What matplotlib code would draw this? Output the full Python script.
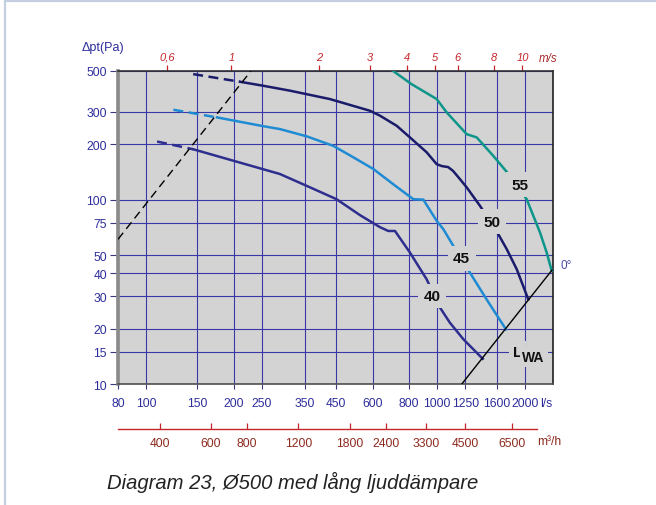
import matplotlib
matplotlib.use('Agg')
import matplotlib.pyplot as plt
from matplotlib.ticker import NullLocator, FixedLocator, FixedFormatter
from matplotlib.lines import Line2D
import numpy as np

plt.rcParams['font.family'] = ['Liberation Sans', 'DejaVu Sans']

# ---------------- data (flow l/s, pressure Pa) ----------------
c40_dash_q = [109, 145]
c40_dash_p = [207, 188]
c40_q = [145, 288, 356, 451, 543, 636, 679, 716, 806, 920, 1022, 1106, 1230, 1434]
c40_p = [188, 138, 119, 100.7, 82.5, 71, 67.7, 67.7, 51.7, 37.0, 26.0, 21.5, 17.5, 13.7]

c45_dash_q = [124, 175]
c45_dash_p = [308, 280]
c45_q = [175, 252, 288, 356, 440, 515, 603, 706, 828, 896, 996, 1050, 1136, 1263, 1478, 1723]
c45_p = [280, 251, 242, 221, 196, 170, 147, 121.5, 100.7, 100.2, 76.8, 69.2, 56.2, 42.9, 28.8, 19.8]

c50_dash_q = [145, 210]
c50_dash_p = [481, 437]
c50_q = [210, 252, 312, 428, 588, 636, 726, 806, 920, 996, 1038, 1090, 1133, 1197, 1263, 1403, 1622, 1733, 1876, 2056]
c50_p = [437, 416, 391, 352, 304, 286, 252, 218, 181, 156, 152.3, 150.5, 143.6, 129.5, 116.7, 92.7, 65, 54, 42, 28.8]

c55_q = [706, 815, 996, 1078, 1263, 1367, 1559, 1779, 2030, 2256, 2378, 2475]
c55_p = [500, 425, 352, 298, 227, 218, 173, 135, 100.7, 66.4, 51.7, 41.1]

system_q = [80, 229]          # black dashed line
system_p = [61, 500]
lwa_q = [1215, 2480]          # L_WA line
lwa_p = [10, 41.5]

curve_labels = ['40', '45', '50', '55']
label_q = [958, 1214, 1539, 1926]
label_p = [30, 48, 76, 121]

x_ticks = [80, 100, 150, 200, 250, 350, 450, 600, 800, 1000, 1250, 1600, 2000]
y_ticks = [10, 15, 20, 30, 40, 50, 75, 100, 200, 300, 500]
ms_ticks = [0.6, 1, 2, 3, 4, 5, 6, 8, 10]
ms_labels = ['0,6', '1', '2', '3', '4', '5', '6', '8', '10']
m3h_ticks = [400, 600, 800, 1200, 1800, 2400, 3300, 4500, 6500]

duct_diameter_m = 0.5
caption = 'Diagram 23, Ø500 med lång ljuddämpare'

# ---------------- styling ----------------
W, H = 656, 506
BG = '#d3d3d3'
GRID = '#3838a6'
NAVY_TXT = '#2d2d9c'
RED = '#c4262b'
BROWN = '#8e2a1e'
C40 = '#2e2e8e'
C45 = '#1f8bd3'
C50 = '#1b1b6b'
C55 = '#0e958a'

fig = plt.figure(figsize=(W / 100, H / 100), dpi=100)
fig.patch.set_facecolor('white')

L, R, T, B = 118, 553, 72, 385
ax = fig.add_axes([L / W, 1 - B / H, (R - L) / W, (B - T) / H])
ax.set_xscale('log')
ax.set_yscale('log')
ax.set_xlim(80, 2500)
ax.set_ylim(10, 500)
ax.set_facecolor(BG)

ax.xaxis.set_major_locator(FixedLocator(x_ticks))
ax.xaxis.set_major_formatter(FixedFormatter([str(v) for v in x_ticks]))
ax.yaxis.set_major_locator(FixedLocator(y_ticks))
ax.yaxis.set_major_formatter(FixedFormatter([str(v) for v in y_ticks]))
ax.xaxis.set_minor_locator(NullLocator())
ax.yaxis.set_minor_locator(NullLocator())
ax.grid(True, which='major', color=GRID, lw=0.8)
ax.set_axisbelow(True)

ax.tick_params(axis='x', direction='out', length=3.5, width=0.8, color='#3a3a80',
               labelcolor=NAVY_TXT, labelsize=8.7, pad=6)
ax.tick_params(axis='y', direction='out', length=6, width=0.8, color='#3a3a80',
               labelcolor=NAVY_TXT, labelsize=8.7, pad=2)

ax.spines['left'].set_color('#8a8a8a')
ax.spines['left'].set_linewidth(2.6)
ax.spines['bottom'].set_color('#505050')
ax.spines['bottom'].set_linewidth(1.2)
ax.spines['top'].set_color('#303030')
ax.spines['top'].set_linewidth(1.2)
ax.spines['right'].set_color('#202020')
ax.spines['right'].set_linewidth(1.2)

# curves
lw = 1.8
dash = (0, (4, 2.2))
ax.plot(c40_dash_q, c40_dash_p, color=C40, lw=lw, ls=dash, zorder=3)
ax.plot(c40_q, c40_p, color=C40, lw=lw, zorder=3, solid_joinstyle='round')
ax.plot(c45_dash_q, c45_dash_p, color=C45, lw=lw, ls=dash, zorder=3)
ax.plot(c45_q, c45_p, color=C45, lw=lw, zorder=3, solid_joinstyle='round')
ax.plot(c50_dash_q, c50_dash_p, color=C50, lw=lw, ls=dash, zorder=3)
ax.plot(c50_q, c50_p, color=C50, lw=lw, zorder=3, solid_joinstyle='round')
ax.plot(c55_q, c55_p, color=C55, lw=lw, zorder=3, solid_joinstyle='round')

ax.plot(system_q, system_p, color='black', lw=1.0, ls=(0, (6, 3.6)), zorder=4)
ax.plot(lwa_q, lwa_p, color='black', lw=1.0, zorder=4)

bbox = dict(boxstyle='square,pad=0.35', fc=BG, ec='none')
for txt, q, p in zip(curve_labels, label_q, label_p):
    ax.text(q, p, txt, ha='center', va='center', fontsize=11, fontweight='bold',
            color='#111111', bbox=bbox, zorder=6)

ax.text(1890, 15.0, 'L', ha='center', va='center', fontsize=11, color='#111111',
        fontweight='bold', bbox=dict(boxstyle='square,pad=0.25', fc=BG, ec='none'), zorder=6)
ax.text(2145, 14.0, 'WA', ha='center', va='center', fontsize=10, color='#111111',
        fontweight='bold', bbox=dict(boxstyle='square,pad=0.2', fc=BG, ec='none'), zorder=6)

ax.text(2769, 44.1, '0°', ha='center', va='center', fontsize=8.5, color='#4a4a9e',
        clip_on=False)

# top velocity axis (m/s)
area = np.pi * duct_diameter_m ** 2 / 4.0
ls_per_ms = area * 1000.0
secx = ax.secondary_xaxis('top', functions=(lambda q: np.asarray(q) / ls_per_ms,
                                            lambda v: np.asarray(v) * ls_per_ms))
secx.xaxis.set_major_locator(FixedLocator(ms_ticks))
secx.xaxis.set_major_formatter(FixedFormatter(ms_labels))
secx.xaxis.set_minor_locator(NullLocator())
secx.tick_params(axis='x', direction='out', length=4.5, width=0.9, color=RED,
                 labelcolor=RED, labelsize=8, pad=2)
for lbl in secx.get_xticklabels():
    lbl.set_style('italic')
secx.spines['top'].set_visible(False)

# bottom m3/h axis
off = -(430 - B) / (B - T)
secb = ax.secondary_xaxis(off, functions=(lambda q: np.asarray(q) * 3.6,
                                          lambda m: np.asarray(m) / 3.6))
secb.xaxis.set_major_locator(FixedLocator(m3h_ticks))
secb.xaxis.set_major_formatter(FixedFormatter([str(v) for v in m3h_ticks]))
secb.xaxis.set_minor_locator(NullLocator())
secb.tick_params(axis='x', direction='in', length=4, width=0.9, color=RED,
                 labelcolor=BROWN, labelsize=8.7, pad=6)
secb.spines['bottom'].set_color(RED)
secb.spines['bottom'].set_linewidth(1.0)
secb.spines['bottom'].set_bounds(80 * 3.6, 2210 * 3.6)

# unit labels
fig.text(548 / W, 1 - 59 / H, 'm/s', color='#a8282a', fontsize=8.3, style='italic',
         ha='center', va='center')
fig.text(546 / W, 1 - 404 / H, 'l/s', color=NAVY_TXT, fontsize=8.7,
         ha='center', va='center')
fig.text(549 / W, 1 - 442 / H, 'm³/h', color=BROWN, fontsize=8.7,
         ha='center', va='center')
fig.text(82 / W, 1 - 48 / H, 'Δpt(Pa)', color=NAVY_TXT, fontsize=9,
         ha='left', va='center')

fig.text(107 / W, 1 - 482 / H, caption, color='#222222', fontsize=14.6, style='italic',
         ha='left', va='center')

# frame
fig.add_artist(Line2D([5 / W, 5 / W], [0, 1 - 2 / H], color='#c5cfe2', lw=1.6,
                      transform=fig.transFigure))
fig.add_artist(Line2D([5 / W, 1], [1 - 2 / H, 1 - 2 / H], color='#c5cfe2', lw=1.6,
                      transform=fig.transFigure))

fig.savefig('out.png', dpi=100)
